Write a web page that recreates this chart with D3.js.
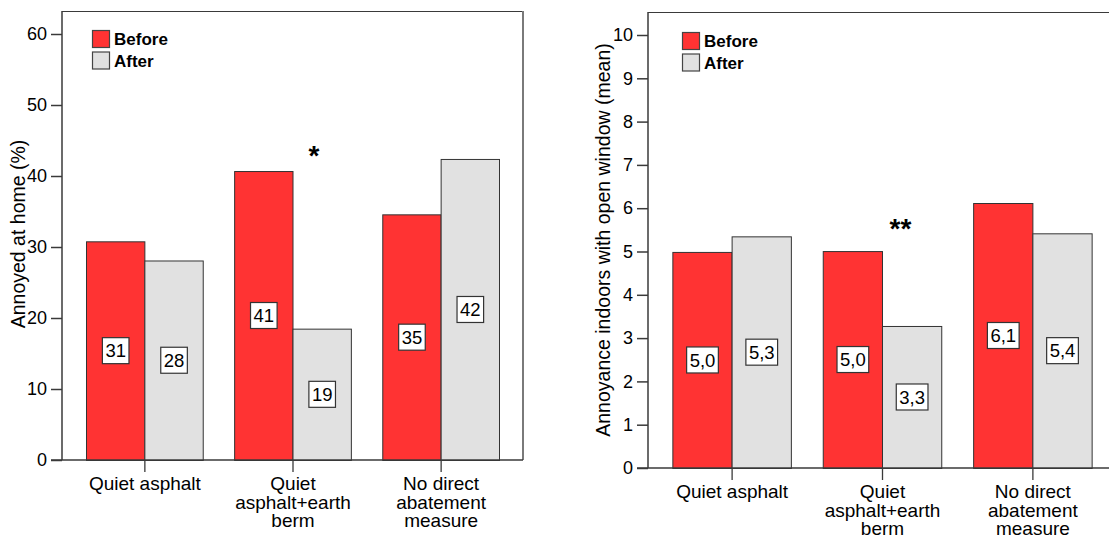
<!DOCTYPE html>
<html>
<head>
<meta charset="utf-8">
<script src="https://cdn.jsdelivr.net/npm/d3@7"></script>
<style>
  html, body { margin: 0; padding: 0; background: #fff; }
  svg { display: block; font-family: Arial, "Liberation Sans", sans-serif; }
</style>
</head>
<body>
<svg id="chart" width="1109" height="538"></svg>
<script>
// ---- data ----
const categories = ["Quiet asphalt", "Quiet asphalt+earth berm", "No direct abatement measure"];
const categoryLines = [["Quiet asphalt"], ["Quiet", "asphalt+earth", "berm"], ["No direct", "abatement", "measure"]];
const seriesNames = ["Before", "After"];

const homeBefore = [30.8, 40.7, 34.6];
const homeAfter = [28.1, 18.5, 42.4];
const homeBeforeLabels = ["31", "41", "35"];
const homeAfterLabels = ["28", "19", "42"];
const homeTicks = [0, 10, 20, 30, 40, 50, 60];
const homeSig = ["", "*", ""];
const homeTitle = "Annoyed at home (%)";

const windowBefore = [4.99, 5.01, 6.12];
const windowAfter = [5.35, 3.28, 5.42];
const windowBeforeLabels = ["5,0", "5,0", "6,1"];
const windowAfterLabels = ["5,3", "3,3", "5,4"];
const windowTicks = [0, 1, 2, 3, 4, 5, 6, 7, 8, 9, 10];
const windowSig = ["", "**", ""];
const windowTitle = "Annoyance indoors with open window (mean)";

const colors = { Before: "#ff3333", After: "#e1e1e1" };

// ---- drawing ----
const svg = d3.select("#chart");

function drawPanel(opt) {
  const g = svg.append("g");
  const y = d3.scaleLinear().domain([0, opt.tickMax]).range([opt.base, opt.tickTopY]);
  const x0 = d3.scaleBand().domain(categories).range([opt.left, opt.bandRight])
    .paddingInner(0.212).paddingOuter(0.162);
  const x1 = d3.scaleBand().domain(seriesNames).range([0, x0.bandwidth()]);

  // frame (top + right)
  g.append("line").attr("x1", opt.left).attr("x2", opt.frameRight)
    .attr("y1", opt.top + 0.5).attr("y2", opt.top + 0.5)
    .attr("stroke", "#3a3a3a").attr("stroke-width", 1.2);
  g.append("line").attr("x1", opt.frameRight).attr("x2", opt.frameRight)
    .attr("y1", opt.top).attr("y2", opt.base)
    .attr("stroke", "#7a7a7a").attr("stroke-width", 2);

  // bars
  const rows = categories.map((c, i) => ({
    cat: c,
    vals: [
      { s: "Before", v: opt.before[i], label: opt.beforeLabels[i] },
      { s: "After", v: opt.after[i], label: opt.afterLabels[i] }
    ]
  }));
  const cg = g.selectAll("g.cat").data(rows).join("g")
    .attr("class", "cat")
    .attr("transform", d => `translate(${x0(d.cat)},0)`);
  cg.selectAll("rect").data(d => d.vals).join("rect")
    .attr("x", d => x1(d.s) + 0.5)
    .attr("width", x1.bandwidth())
    .attr("y", d => y(d.v) + 0.5)
    .attr("height", d => opt.base - y(d.v))
    .attr("fill", d => colors[d.s])
    .attr("stroke", "#333").attr("stroke-width", 1);

  // value labels
  const lab = cg.selectAll("g.lab").data(d => d.vals).join("g")
    .attr("class", "lab")
    .attr("transform", d => `translate(${x1(d.s) + x1.bandwidth() / 2 + 0.5},${(y(d.v) + opt.base) / 2})`);
  lab.each(function (d) {
    const s = d3.select(this);
    const t = s.append("text").text(d.label)
      .attr("text-anchor", "middle").attr("dy", "0.36em")
      .attr("font-size", 18.5).attr("fill", "#000");
    const w = t.node().getComputedTextLength() + 6;
    s.insert("rect", "text")
      .attr("x", -w / 2).attr("y", -13).attr("width", w).attr("height", 26)
      .attr("fill", "#fff").attr("stroke", "#333").attr("stroke-width", 1.2);
  });

  // y axis
  const yAxis = d3.axisLeft(y).tickValues(opt.ticks).tickSize(11).tickPadding(4)
    .tickFormat(d3.format("d"));
  const ya = g.append("g").attr("transform", `translate(${opt.left},0)`).call(yAxis);
  ya.select(".domain").remove();
  ya.selectAll(".tick line").attr("stroke", "#3a3a3a").attr("stroke-width", 1.5);
  ya.selectAll(".tick text").attr("font-size", 18).attr("fill", "#000")
    .attr("font-family", "Arial, 'Liberation Sans', sans-serif");
  g.append("line").attr("x1", opt.left).attr("x2", opt.left)
    .attr("y1", opt.top).attr("y2", opt.base)
    .attr("stroke", "#3a3a3a").attr("stroke-width", 1.5);

  // x axis
  g.append("line").attr("x1", opt.left - 11).attr("x2", opt.frameRight)
    .attr("y1", opt.base).attr("y2", opt.base)
    .attr("stroke", "#3a3a3a").attr("stroke-width", 1.5);
  categories.forEach((c, i) => {
    const cx = x0(c) + x0.bandwidth() / 2 + 0.5;
    g.append("line").attr("x1", cx).attr("x2", cx)
      .attr("y1", opt.base).attr("y2", opt.base + 12)
      .attr("stroke", "#3a3a3a").attr("stroke-width", 1.3);
    categoryLines[i].forEach((ln, k) => {
      g.append("text").attr("text-anchor", "middle")
        .attr("font-size", 19).attr("fill", "#000")
        .attr("x", cx).attr("y", opt.base + 30 + k * 18.5).text(ln);
    });
    // significance marks
    if (opt.sig[i]) {
      const top = d3.max([opt.before[i], opt.after[i]]);
      g.append("text").text(opt.sig[i])
        .attr("x", cx + opt.sigDx).attr("y", y(top) - opt.sigDy)
        .attr("text-anchor", "middle").attr("font-size", 28).attr("font-weight", "bold")
        .attr("fill", "#000");
    }
  });

  // y title
  g.append("text").text(opt.title)
    .attr("transform", `translate(${opt.titleX},${opt.titleY}) rotate(-90)`)
    .attr("text-anchor", "middle").attr("font-size", 19.5).attr("fill", "#000");

  // legend
  seriesNames.forEach((s, k) => {
    g.append("rect").attr("x", opt.legX + 0.5).attr("y", opt.legY + k * 21.5 + 0.5)
      .attr("width", 17).attr("height", 17)
      .attr("fill", colors[s]).attr("stroke", "#444").attr("stroke-width", 1.2);
    g.append("text").text(s)
      .attr("x", opt.legX + 22).attr("y", opt.legY + k * 21.5 + 15)
      .attr("font-size", 17).attr("font-weight", "bold").attr("fill", "#000");
  });
}

drawPanel({
  left: 62, bandRight: 523, frameRight: 523, top: 11, base: 460,
  tickMax: 60, tickTopY: 34,
  before: homeBefore, after: homeAfter,
  beforeLabels: homeBeforeLabels, afterLabels: homeAfterLabels,
  ticks: homeTicks, sig: homeSig, sigDx: 21, sigDy: 6,
  title: homeTitle, titleX: 25, titleY: 234,
  legX: 92, legY: 30
});

drawPanel({
  left: 648, bandRight: 1116, frameRight: 1116, top: 12, base: 468,
  tickMax: 10, tickTopY: 35,
  before: windowBefore, after: windowAfter,
  beforeLabels: windowBeforeLabels, afterLabels: windowAfterLabels,
  ticks: windowTicks, sig: windowSig, sigDx: 18, sigDy: 13,
  title: windowTitle, titleX: 610, titleY: 240,
  legX: 682, legY: 32
});
</script>
</body>
</html>
